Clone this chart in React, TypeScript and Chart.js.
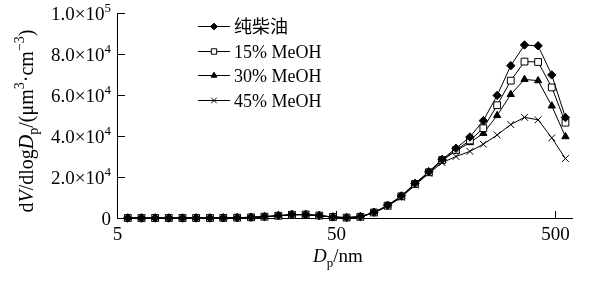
import React, { useEffect, useRef } from "react";
import { Chart, registerables } from "chart.js";
import { drawPoint } from "chart.js/helpers";

Chart.register(...registerables);

// Particle diameter channels (nm)
const diameters = [
  5.6, 6.47, 7.47, 8.62, 9.96, 11.5, 13.3, 15.3, 17.7, 20.5, 23.6, 27.3, 31.5,
  36.4, 42.0, 48.5, 56.0, 64.7, 74.7, 86.2, 99.6, 115, 133, 153, 177, 205, 236,
  273, 315, 364, 420, 485, 560,
];

// dV/dlogDp values (µm³·cm⁻³)
const diesel = [
  0, 0, 0, 0, 0, 0, 0, 50, 150, 400, 700, 1200, 1700, 1700, 1200, 500, 200, 700,
  2800, 6200, 10800, 16900, 22600, 28600, 34000, 39500, 47500, 59800, 74300,
  84400, 84000, 69800, 49000,
];
const meoh15 = [
  0, 0, 0, 0, 0, 0, 0, 50, 150, 350, 650, 1100, 1600, 1700, 1200, 500, 200, 600,
  2700, 6000, 10600, 16600, 22300, 28300, 33200, 37800, 43800, 55000, 67000,
  76300, 76100, 63700, 46500,
];
const meoh30 = [
  0, 0, 0, 0, 0, 0, 0, 50, 120, 300, 600, 1100, 1600, 1650, 1100, 450, 150, 600,
  2600, 5900, 10400, 16400, 22000, 28000, 32800, 36800, 41300, 50000, 60300,
  67600, 67000, 54700, 39700,
];
const meoh45 = [
  0, 0, 0, 0, 0, 0, 0, 40, 100, 300, 550, 1000, 1500, 1600, 1100, 400, 150, 500,
  2500, 5700, 10100, 16000, 21800, 27000, 30000, 32500, 36000, 40500, 45600,
  49100, 47900, 39100, 29000,
];

const seriesNames = ["纯柴油", "15% MeOH", "30% MeOH", "45% MeOH"];
const seriesValues = [diesel, meoh15, meoh30, meoh45];

const xTickValues = [5, 50, 500];
const xTickLabels = ["5", "50", "500"];
const yTickValues = [0, 20000, 40000, 60000, 80000, 100000];
const yTickLabels = ["0", "2.0×10^4", "4.0×10^4", "6.0×10^4", "8.0×10^4", "1.0×10^5"];

const SERIF =
  "'Liberation Serif', 'Times New Roman', 'DejaVu Serif', 'Noto Sans CJK SC', serif";

const markerStyles = [
  { pointStyle: "rectRot", radius: 4.2, fill: "#000" },
  { pointStyle: "rect", radius: 4.8, fill: "#fff" },
  { pointStyle: "triangle", radius: 4.2, fill: "#000" },
  { pointStyle: "crossRot", radius: 4.8, fill: "#000" },
];

type Piece = [string, "n" | "i" | "sub" | "sup"];
type Sizes = { main: number; small: number; sub: number; sup: number };

const tickSizes: Sizes = { main: 19, small: 13, sub: 5, sup: -8 };
const titleSizes: Sizes = { main: 20, small: 14, sub: 5, sup: -9 };
const legendSize = 18;

function pieceFont(kind: string, s: Sizes) {
  if (kind === "i") return `italic ${s.main}px ${SERIF}`;
  if (kind === "sub" || kind === "sup") return `${s.small}px ${SERIF}`;
  return `${s.main}px ${SERIF}`;
}
function pieceOffset(kind: string, s: Sizes) {
  if (kind === "sub") return s.sub;
  if (kind === "sup") return s.sup;
  return 0;
}
function measurePieces(ctx: CanvasRenderingContext2D, pieces: Piece[], s: Sizes) {
  let w = 0;
  for (const [t, k] of pieces) {
    ctx.font = pieceFont(k, s);
    w += ctx.measureText(t).width;
  }
  return w;
}
function drawPieces(ctx: CanvasRenderingContext2D, pieces: Piece[], x: number, y: number, s: Sizes) {
  let cx = x;
  for (const [t, k] of pieces) {
    ctx.font = pieceFont(k, s);
    ctx.fillText(t, cx, y + pieceOffset(k, s));
    cx += ctx.measureText(t).width;
  }
}

const yTitle: Piece[] = [
  ["d", "n"],
  ["V", "i"],
  ["/dlog", "n"],
  ["D", "i"],
  ["p", "sub"],
  ["/(μm", "n"],
  ["3", "sup"],
  ["·cm", "n"],
  ["−3", "sup"],
  [")", "n"],
];
const xTitle: Piece[] = [
  ["D", "i"],
  ["p", "sub"],
  ["/nm", "n"],
];

const annotate = {
  id: "annotate",
  afterDraw(chart: any) {
    const ctx: CanvasRenderingContext2D = chart.ctx;
    const xs = chart.scales.x;
    const ys = chart.scales.y;
    const area = chart.chartArea;
    ctx.save();
    ctx.strokeStyle = "#000";
    ctx.fillStyle = "#000";
    ctx.lineWidth = 1;
    ctx.textAlign = "left";
    ctx.textBaseline = "alphabetic";

    // y ticks (inward) + labels
    yTickValues.forEach((v, i) => {
      const py = Math.round(ys.getPixelForValue(v)) + 0.5;
      if (v !== 0) {
        ctx.beginPath();
        ctx.moveTo(area.left, py);
        ctx.lineTo(area.left + 8, py);
        ctx.stroke();
      }
      const [base, sup] = yTickLabels[i].split("^");
      const pieces: Piece[] = sup ? [[base, "n"], [sup, "sup"]] : [[base, "n"]];
      const w = measurePieces(ctx, pieces, tickSizes);
      drawPieces(ctx, pieces, area.left - 6 - w, py + 6.5, tickSizes);
    });

    // x ticks (inward) + labels
    xTickValues.forEach((v, i) => {
      const px = Math.round(xs.getPixelForValue(v)) + 0.5;
      ctx.beginPath();
      ctx.moveTo(px, area.bottom);
      ctx.lineTo(px, area.bottom - 7);
      ctx.stroke();
      ctx.font = `${tickSizes.main}px ${SERIF}`;
      const w = ctx.measureText(xTickLabels[i]).width;
      ctx.fillText(xTickLabels[i], px - w / 2, area.bottom + 22);
    });

    // x title
    const xw = measurePieces(ctx, xTitle, tickSizes);
    drawPieces(ctx, xTitle, 338 - xw / 2, 262, tickSizes);

    // y title
    const yw = measurePieces(ctx, yTitle, titleSizes);
    ctx.save();
    ctx.translate(33, 121);
    ctx.rotate(-Math.PI / 2);
    drawPieces(ctx, yTitle, -yw / 2, 0, titleSizes);
    ctx.restore();

    // legend
    seriesNames.forEach((name, i) => {
      const ly = Math.round(26 + i * 24.6) + 0.5;
      ctx.strokeStyle = "#000";
      ctx.lineWidth = 1;
      ctx.beginPath();
      ctx.moveTo(198, ly);
      ctx.lineTo(230, ly);
      ctx.stroke();
      const m = markerStyles[i];
      ctx.fillStyle = m.fill;
      ctx.strokeStyle = "#000";
      drawPoint(
        ctx,
        { pointStyle: m.pointStyle as any, rotation: 0, radius: m.radius * 0.8, borderWidth: 1 },
        214,
        ly
      );
      ctx.fillStyle = "#000";
      ctx.font = `${legendSize}px ${SERIF}`;
      ctx.fillText(name, 234, ly + 6);
    });

    ctx.restore();
  },
};

export default function App() {
  const ref = useRef<HTMLCanvasElement | null>(null);
  useEffect(() => {
    if (!ref.current) return;
    const chart = new Chart(ref.current, {
      type: "line",
      data: {
        datasets: seriesValues.map((vals, si) => ({
          label: seriesNames[si],
          data: diameters.map((d, i) => ({ x: d, y: vals[i] })),
          borderColor: "#000",
          borderWidth: 1,
          pointStyle: markerStyles[si].pointStyle as any,
          pointRadius: markerStyles[si].radius,
          pointBackgroundColor: markerStyles[si].fill,
          pointBorderColor: "#000",
          pointBorderWidth: 1,
          tension: 0,
          fill: false,
          clip: false as any,
        })),
      },
      options: {
        responsive: false,
        devicePixelRatio: 1,
        animation: false,
        layout: { padding: { left: 117, right: 42, top: 13, bottom: 63 } },
        plugins: { legend: { display: false }, tooltip: { enabled: false } },
        scales: {
          x: {
            type: "logarithmic",
            min: 5,
            max: 600,
            afterBuildTicks: (s: any) => {
              s.ticks = xTickValues.map((v) => ({ value: v }));
            },
            ticks: { display: false },
            grid: { display: false, drawTicks: false },
            border: { display: true, color: "#000", width: 1 },
          },
          y: {
            type: "linear",
            min: 0,
            max: 100000,
            afterBuildTicks: (s: any) => {
              s.ticks = yTickValues.map((v) => ({ value: v }));
            },
            ticks: { display: false },
            grid: { display: false, drawTicks: false },
            border: { display: true, color: "#000", width: 1 },
          },
        },
      },
      plugins: [annotate],
    });
    return () => chart.destroy();
  }, []);
  return (
    <div style={{ position: "absolute", left: 0, top: 0, width: 614, height: 281, background: "#fff" }}>
      <canvas ref={ref} width={614} height={281} style={{ display: "block" }} />
    </div>
  );
}
